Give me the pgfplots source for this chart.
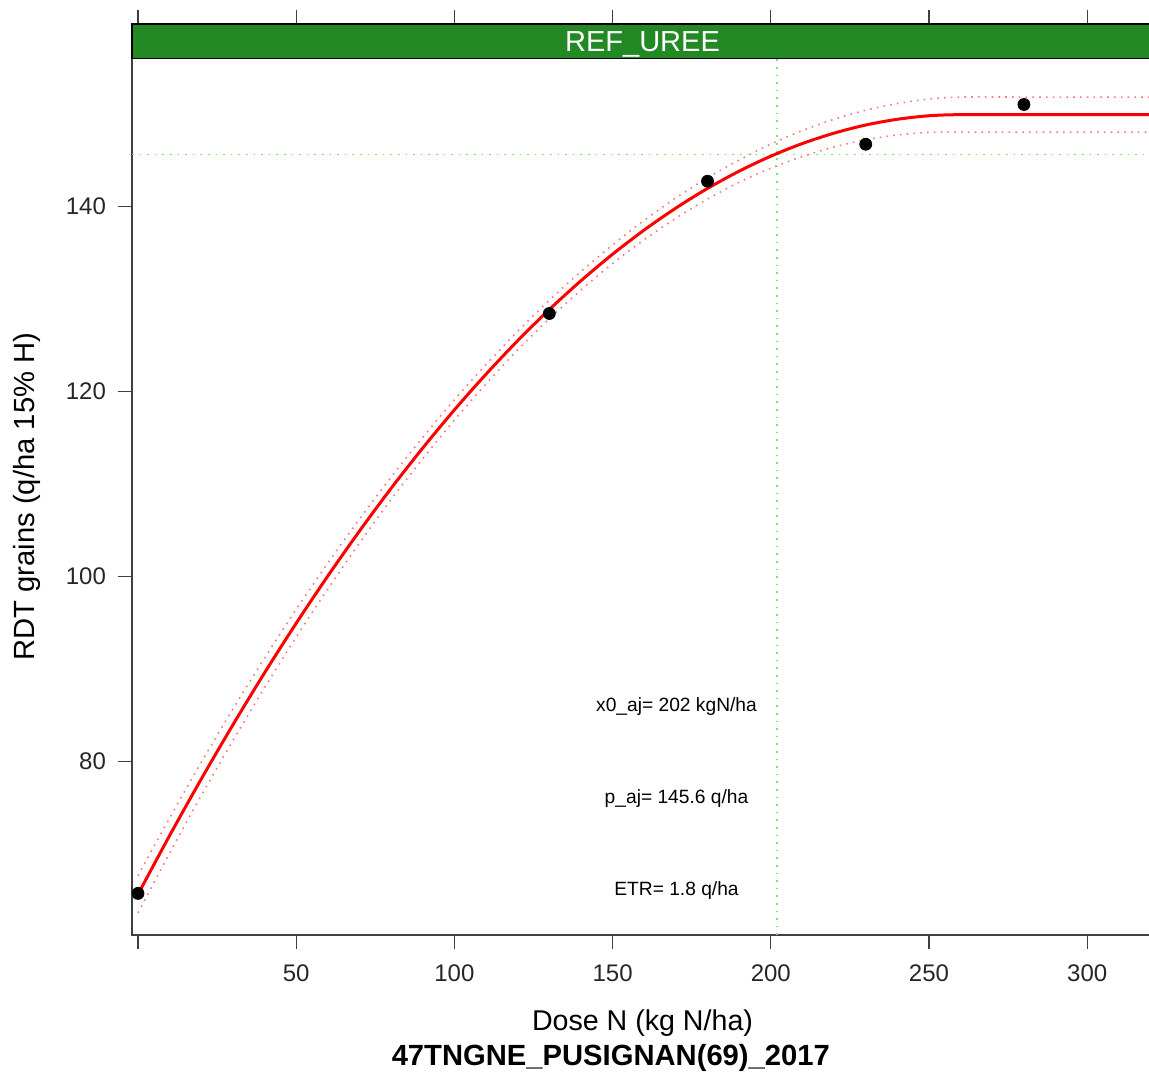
\documentclass[border=0pt]{standalone}
\usepackage{fontspec}
\setmainfont{Liberation Sans}
\usepackage{pgfplots}
\usepackage{pgfplotstable}
\pgfplotsset{compat=1.18}
\definecolor{stripgreen}{RGB}{35,137,37}
\definecolor{refgreen}{RGB}{110,235,110}
\definecolor{bandred}{RGB}{255,120,120}

% fitted quadratic-plateau curve with its confidence band
\pgfplotstableread{
x y lo hi
0 65.60 63.60 67.60
10 71.96 70.06 73.86
20 78.07 76.27 79.87
30 83.93 82.23 85.63
40 89.55 87.95 91.15
50 94.91 93.41 96.41
60 100.02 98.62 101.42
70 104.88 103.58 106.18
80 109.50 108.30 110.70
90 113.86 112.71 115.01
100 117.98 116.88 119.08
110 121.84 120.79 122.89
120 125.46 124.46 126.46
130 128.83 127.83 129.83
140 131.94 130.94 132.94
150 134.81 133.81 135.81
160 137.43 136.38 138.48
170 139.80 138.70 140.90
180 141.92 140.77 143.07
190 143.79 142.59 144.99
200 145.41 144.11 146.71
210 146.78 145.38 148.18
220 147.90 146.40 149.40
230 148.78 147.18 150.38
240 149.40 147.70 151.10
250 149.78 147.98 151.58
260 149.90 148.00 151.80
280 149.90 148.00 151.80
300 149.90 148.00 151.80
320 149.90 148.00 151.80
}\fitdata

% observed yields
\pgfplotstableread{
x y
0 65.7
130 128.4
180 142.7
230 146.7
280 151.0
}\obsdata

\begin{document}
\begin{tikzpicture}
\useasboundingbox (-66pt,-68.5pt) rectangle (508.5pt,467.5pt);
\begin{axis}[
    at={(0,0)}, anchor=south west,
    scale only axis,
    width=510.5pt, height=455.5pt,
    xmin=-1.9, xmax=320.8,
    ymin=61.2, ymax=159.7,
    xtick={0,50,...,300},
    xticklabels={{},50,100,150,200,250,300},
    ytick={80,100,120,140},
    tick align=outside,
    xtick pos=both, ytick pos=left,
    major tick length=7pt,
    axis line style={black!75, line width=0.6pt},
    tick style={black!75, line width=0.6pt},
    ticklabel style={font=\fontsize{12}{14}\selectfont, text=black!85},
    xticklabel style={yshift=-4.5pt},
    yticklabel style={xshift=-2.5pt},
    /pgf/number format/assume math mode=true,
    clip=false,
]
% reference lines at x0_aj and p_aj
\addplot[refgreen, line width=0.8pt, dash pattern=on 0.8pt off 3pt] coordinates {(202,61.2) (202,156)};
\addplot[refgreen, line width=0.8pt, dash pattern=on 0.8pt off 3pt] coordinates {(-1.9,145.6) (320.8,145.6)};

\addplot[bandred, line width=0.8pt, dash pattern=on 0.8pt off 2.6pt, smooth] table[x=x, y=lo] {\fitdata};
\addplot[bandred, line width=0.8pt, dash pattern=on 0.8pt off 2.6pt, smooth] table[x=x, y=hi] {\fitdata};
\addplot[red, line width=1.5pt, smooth] table[x=x, y=y] {\fitdata};
\addplot[only marks, mark=*, mark size=3pt, black] table[x=x, y=y] {\obsdata};

% strip
\filldraw[fill=stripgreen, draw=black, line width=0.6pt] (rel axis cs:0,0.9624) rectangle (rel axis cs:1,1);
\node[text=white, font=\fontsize{14.5}{16}\selectfont] at ([yshift=-1.5pt]rel axis cs:0.5,0.9812) {REF\_UREE};

\node[font=\fontsize{9.6}{11}\selectfont] at (axis cs:170.2,85.9) {x0\_aj= 202 kgN/ha};
\node[font=\fontsize{9.6}{11}\selectfont] at (axis cs:170.2,76.0) {p\_aj= 145.6 q/ha};
\node[font=\fontsize{9.6}{11}\selectfont] at (axis cs:170.2,66.05) {ETR= 1.8 q/ha};

\node[rotate=90, font=\fontsize{14.6}{16}\selectfont] at ([xshift=-52.5pt]rel axis cs:0,0.4812) {RDT grains (q/ha 15\% H)};
\node[font=\fontsize{14.3}{16}\selectfont] at ([yshift=-44pt]rel axis cs:0.5,0) {Dose N (kg N/ha)};
\node[font=\bfseries\fontsize{14.6}{16}\selectfont] at ([yshift=-61.5pt]rel axis cs:0.469,0) {47TNGNE\_PUSIGNAN(69)\_2017};
\end{axis}
\end{tikzpicture}
\end{document}
